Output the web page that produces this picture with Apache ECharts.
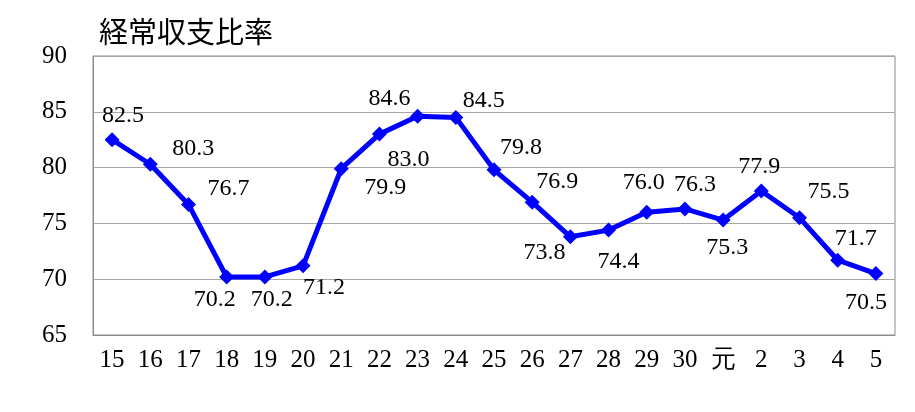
<!DOCTYPE html>
<html>
<head>
<meta charset="utf-8">
<script src="https://cdn.jsdelivr.net/npm/echarts@6/dist/echarts.min.js"></script>
<style>
  html, body { margin: 0; padding: 0; background: #fff; }
  #chart { width: 915px; height: 412px; }
</style>
</head>
<body>
<div id="chart"></div>
<script>
// 年度 (平成15〜30, 令和元〜5)
const categories = ['15', '16', '17', '18', '19', '20', '21', '22', '23', '24', '25', '26', '27', '28', '29', '30', '元', '2', '3', '4', '5'];
const ratioValues = [82.5, 80.3, 76.7, 70.2, 70.2, 71.2, 79.9, 83.0, 84.6, 84.5, 79.8, 76.9, 73.8, 74.4, 76.0, 76.3, 75.3, 77.9, 75.5, 71.7, 70.5];
const yTicks = [65, 70, 75, 80, 85, 90];

// label offsets from each marker (px), as placed in the original
const labelOffsets = [
  [11, -24], [43, -16], [40, -16], [-12, 23], [7, 23], [21, 22], [44, 19],
  [29, 26], [-28, -18], [28, -17], [27, -22], [25, -20], [-26, 16], [10, 32],
  [-3, -30], [10, -24], [4, 28], [-2, -24], [29, -26], [18, -22], [-10, 29]
];

const serif = 'Liberation Serif, serif';

const chart = echarts.init(document.getElementById('chart'));

const option = {
  animation: false,
  title: {
    text: '経常収支比率',
    left: 94,
    top: 12,
    textStyle: {
      fontFamily: 'Noto Sans CJK JP, sans-serif',
      fontSize: 29,
      fontWeight: 'normal',
      color: '#000'
    }
  },
  grid: {
    left: 93,
    right: 20,
    top: 56,
    bottom: 77,
    show: true,
    borderColor: '#8c8c8c',
    borderWidth: 1
  },
  xAxis: {
    type: 'category',
    data: categories,
    boundaryGap: true,
    axisLine: { lineStyle: { color: '#8c8c8c', width: 1 } },
    axisTick: { inside: true, length: 8, lineStyle: { color: '#8c8c8c' } },
    axisLabel: {
      margin: 13,
      color: '#000',
      fontSize: 25,
      fontFamily: serif
    }
  },
  yAxis: {
    type: 'value',
    min: yTicks[0],
    max: yTicks[yTicks.length - 1],
    interval: 5,
    axisLine: { show: true, lineStyle: { color: '#8c8c8c', width: 1 } },
    axisTick: { show: false },
    axisLabel: {
      margin: 26,
      color: '#000',
      fontSize: 25,
      fontFamily: serif
    },
    splitLine: { lineStyle: { color: '#a6a6a6', width: 1 } }
  },
  series: [{
    type: 'line',
    data: ratioValues.map((v, i) => ({
      value: v,
      label: { offset: labelOffsets[i] }
    })),
    symbol: 'diamond',
    symbolSize: 15,
    lineStyle: { color: '#0000ff', width: 5 },
    itemStyle: { color: '#0000ff' },
    label: {
      show: true,
      position: 'inside',
      color: '#000',
      fontSize: 24,
      fontFamily: serif,
      formatter: p => p.value.toFixed(1)
    }
  }]
};

chart.setOption(option);
</script>
</body>
</html>
